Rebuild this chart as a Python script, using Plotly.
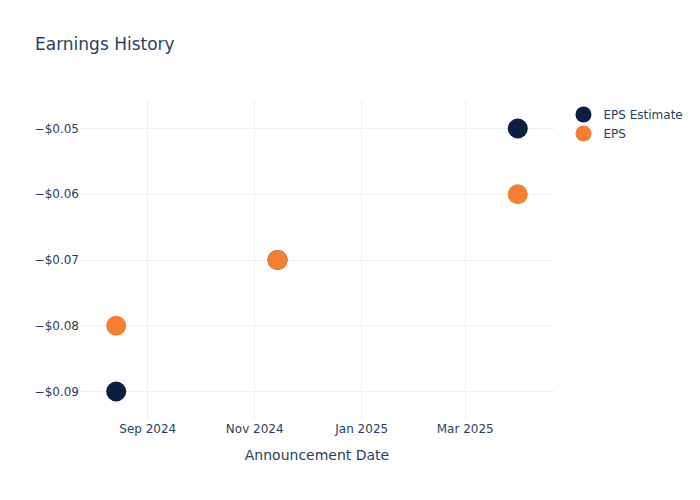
import plotly.graph_objects as go

dates = ["2024-08-14", "2024-11-14", "2025-03-31"]
eps_estimate = [-0.09, -0.07, -0.05]
eps_actual = [-0.08, -0.07, -0.06]

fig = go.Figure()
fig.add_trace(go.Scatter(
    x=dates, y=eps_estimate,
    mode='markers',
    name='EPS Estimate',
    marker=dict(size=20, color='#0b1f42')
))
fig.add_trace(go.Scatter(
    x=dates, y=eps_actual,
    mode='markers',
    name='EPS',
    marker=dict(size=20, color='#f58035')
))

fig.update_layout(
    template='plotly_white',
    font=dict(family='DejaVu Sans'),
    title=dict(text='Earnings History'),
    xaxis=dict(title='Announcement Date', tickformat='%b %Y', dtick='M2'),
    yaxis=dict(tickformat='$.2f'),
    width=700, height=500,
)

# page without body margin so the figure sits at the window corner
fig.write_html("out.html", config={'displayModeBar': False},
               post_script="document.body.style.margin='0px';")
